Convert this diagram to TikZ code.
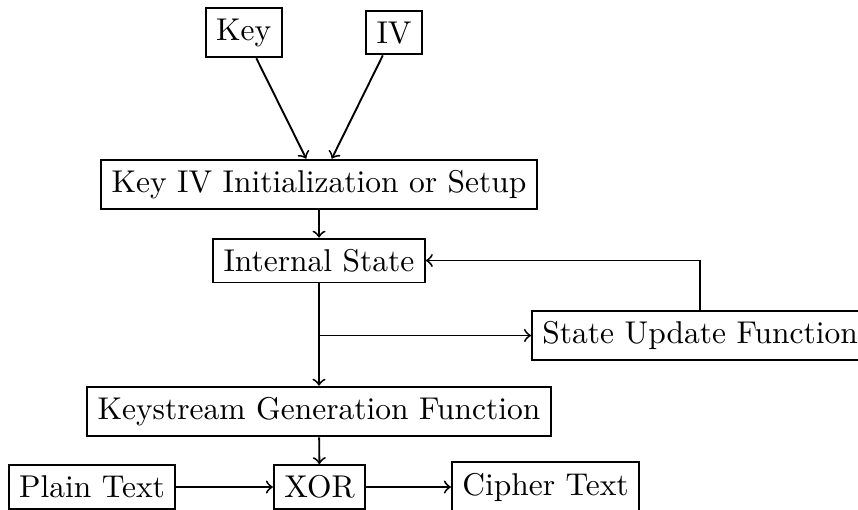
\documentclass[tikz,border=0pt]{standalone}
\begin{document}
\begin{tikzpicture}[x=0.3175pt, y=-0.3175pt,
  block/.style={draw, semithick, rectangle, inner sep=0.3333em},
  flow/.style={->, semithick}]
\useasboundingbox (0,0) rectangle (858,509);

% inputs
\node[block] (key) at (243.7,32.8) {Key};
\node[block] (iv)  at (394,32.8) {IV};

% main chain
\node[block] (init)      at (319,184.5) {Key IV Initialization or Setup};
\node[block] (internal)  at (319,260.5) {Internal State};
\node[block, anchor=west] (update) at (531,335.5) {State Update Function};
\node[block] (keystream) at (319,411.5) {Keystream Generation Function};

% output row
\node[block] (plain)  at (92,487)    {Plain Text};
\node[block] (xor)    at (319.5,487) {XOR};
\node[block] (cipher) at (545.5,487) {Cipher Text};

\coordinate (branch) at (internal |- update.west);

\draw[flow] (key) -- (init);
\draw[flow] (iv) -- (init);
\draw[flow] (init) -- (internal);
\draw[flow] (internal) -- (keystream);
\draw[flow] (branch) -- (update.west);
\draw[flow] (update.north) |- (internal.east);
\draw[flow] (keystream) -- (xor);
\draw[flow] (plain) -- (xor);
\draw[flow] (xor) -- (cipher);
\end{tikzpicture}
\end{document}
